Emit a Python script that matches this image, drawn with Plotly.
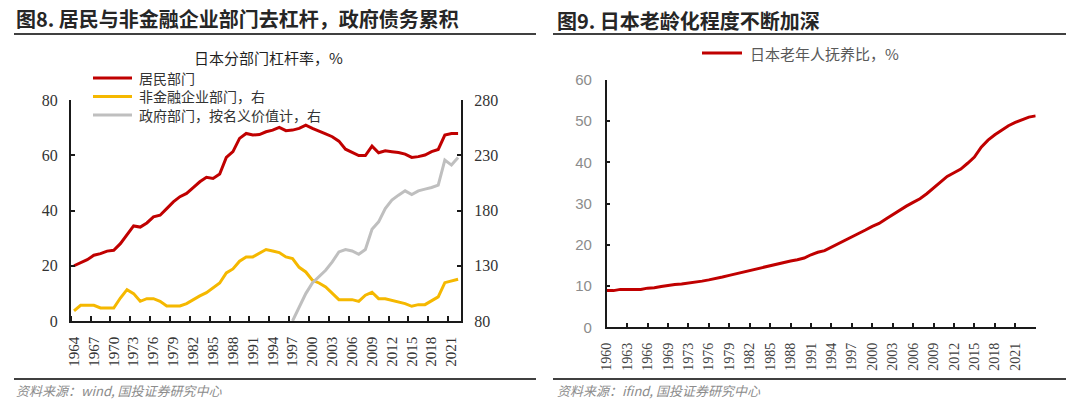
import plotly.graph_objects as go

# ---------------- data: left chart ----------------
years_left = list(range(1964, 2023))
household = [20.0, 21.0, 22.2, 23.8, 24.4, 25.3, 25.6, 28.0, 31.4, 34.4,
             34.0, 35.5, 37.7, 38.3, 40.7, 43.1, 45.0, 46.2, 48.3, 50.4,
             52.0, 51.6, 53.2, 59.2, 61.3, 66.1, 67.9, 67.3, 67.5, 68.5,
             69.1, 70.1, 68.9, 69.1, 69.7, 70.9, 69.7, 68.8, 67.7, 66.7,
             65.1, 62.2, 61.0, 59.9, 59.9, 63.3, 60.9, 61.6, 61.3, 61.0,
             60.4, 59.2, 59.5, 60.1, 61.3, 62.1, 67.3, 67.9, 67.9]
nonfin_corp = [89.1, 94.2, 94.2, 94.2, 91.8, 91.8, 91.8, 100.8, 108.4, 104.8,
               97.8, 100.2, 100.2, 97.8, 93.6, 93.6, 93.6, 95.7, 99.6, 102.7,
               105.7, 110.2, 114.4, 123.5, 127.1, 134.1, 138.0, 138.0, 141.0, 144.7,
               143.4, 141.9, 138.0, 136.5, 128.6, 124.4, 116.9, 114.4, 110.8, 104.8,
               99.3, 99.3, 99.3, 97.8, 103.3, 106.0, 100.2, 100.2, 98.7, 97.2,
               95.7, 93.3, 94.8, 94.8, 98.1, 101.8, 114.7, 116.0, 117.8]
years_gov = list(range(1997, 2023))
government = [80.0, 92.7, 104.8, 114.4, 119.9, 125.9, 133.5, 142.5, 144.7, 143.4,
              140.4, 144.7, 163.1, 169.7, 181.8, 189.4, 193.9, 197.8, 194.5, 197.8,
              199.3, 200.8, 203.0, 225.6, 221.1, 228.0]
left_tick_years = list(range(1964, 2022, 3))
left_boundaries = [y - 0.5 for y in range(1964, 2022, 3)]
left_y_ticks = [0, 20, 40, 60, 80]
right_y2_ticks = [80, 130, 180, 230, 280]
left_names = ["居民部门", "非金融企业部门，右", "政府部门，按名义价值计，右"]

# ---------------- data: right chart ----------------
years_right = [1960, 1961, 1962, 1963, 1964, 1965, 1966, 1967, 1968, 1969] + list(range(1971, 2025))
old_age_dep = [8.9, 8.9, 9.2, 9.2, 9.2, 9.2, 9.5, 9.6, 9.9, 10.2,
               10.4, 10.5, 10.7, 11.0, 11.2, 11.5, 11.8, 12.2, 12.6, 13.0,
               13.4, 13.8, 14.1, 14.5, 14.9, 15.3, 15.7, 16.1, 16.4, 16.8,
               17.6, 18.2, 18.6, 19.4, 20.3, 21.0, 21.8, 22.6, 23.6, 24.5,
               25.2, 26.3, 27.4, 28.4, 29.4, 30.3, 31.2, 32.4, 33.8, 35.2,
               36.6, 37.5, 38.4, 39.8, 41.3, 43.7, 45.4, 46.7, 47.9, 48.9,
               49.7, 50.4, 51.0, 51.3]
right_tickvals = [str(y) for y in years_right[::3]]
right_ticktext = [t if int(t) <= 2021 else "" for t in right_tickvals]
right_y_ticks = [0, 10, 20, 30, 40, 50, 60]
right_name = "日本老年人抚养比，%"

RED = "#C00000"
YELLOW = "#F5B800"
GRAY = "#BFBFBF"
W, H = 1066, 406
CJK = "Noto Sans CJK SC"
SERIF = "Liberation Serif"


def px(x):
    return x / W


def py(y):
    return 1 - y / H


fig = go.Figure()

fig.add_trace(go.Scatter(x=years_left, y=household, mode="lines", name=left_names[0],
                         line=dict(color=RED, width=3), xaxis="x", yaxis="y"))
fig.add_trace(go.Scatter(x=years_left, y=nonfin_corp, mode="lines", name=left_names[1],
                         line=dict(color=YELLOW, width=3), xaxis="x", yaxis="y2"))
fig.add_trace(go.Scatter(x=years_gov, y=government, mode="lines", name=left_names[2],
                         line=dict(color=GRAY, width=3), xaxis="x", yaxis="y2"))
fig.add_trace(go.Scatter(x=[str(y) for y in years_right], y=old_age_dep, mode="lines",
                         name=right_name, line=dict(color=RED, width=3),
                         xaxis="x3", yaxis="y3"))

axis_line = dict(showline=True, linecolor="#1a1a1a", linewidth=1.5, showgrid=False,
                 zeroline=False, mirror=False, automargin=False)

fig.update_layout(
    template="none",
    width=W, height=H,
    margin=dict(l=0, r=0, t=0, b=0, pad=0, autoexpand=False),
    paper_bgcolor="white", plot_bgcolor="white",
    showlegend=False,
    xaxis=dict(**axis_line, domain=[px(70.7), px(461.4)], range=[1963.5, 2022.5],
               tickmode="array", tickvals=left_tick_years, ticktext=[str(y) for y in left_tick_years],
               ticks="", tickangle=-90, ticklabelstandoff=8,
               tickfont=dict(family=SERIF, size=15, color="#333333"),
               minor=dict(tickmode="array", tickvals=left_boundaries, ticks="inside",
                          ticklen=5, tickwidth=1.5, tickcolor="#1a1a1a", showgrid=False),
               anchor="y"),
    yaxis=dict(**axis_line, domain=[py(321), py(100)], range=[0, 80],
               tickmode="array", tickvals=left_y_ticks,
               ticks="inside", ticklen=5, tickwidth=1.5, tickcolor="#1a1a1a",
               tickfont=dict(family=SERIF, size=16, color="#333333"), anchor="x",
               ticklabelstandoff=8),
    yaxis2=dict(**axis_line, domain=[py(321), py(100)], range=[80, 280],
                tickmode="array", tickvals=right_y2_ticks,
                overlaying="y", side="right", anchor="x",
                ticks="inside", ticklen=5, tickwidth=1.5, tickcolor="#1a1a1a",
                tickfont=dict(family=SERIF, size=16, color="#333333"),
                ticklabelstandoff=8),
    xaxis3=dict(**axis_line, domain=[px(606.7), px(1035.7)], type="category",
                range=[0, len(years_right) - 1],
                tickmode="array", tickvals=right_tickvals, ticktext=right_ticktext,
                ticks="inside", ticklen=5, tickwidth=1.5, tickcolor="#1a1a1a",
                tickangle=-90, ticklabelstandoff=8,
                tickfont=dict(family=SERIF, size=14, color="#404040"), anchor="y3"),
    yaxis3=dict(**axis_line, domain=[py(327.3), py(80)], range=[0, 60],
                tickmode="array", tickvals=right_y_ticks,
                ticks="inside", ticklen=4, tickwidth=1.5, tickcolor="#1a1a1a",
                tickfont=dict(family="Liberation Sans", size=15, color="#8c8c8c"),
                anchor="x3", ticklabelstandoff=10),
)

annotations = [
    dict(text="<b>图8. 居民与非金融企业部门去杠杆，政府债务累积</b>", x=px(14), y=py(18),
         xanchor="left", yanchor="middle", font=dict(family=CJK, size=20, color="#262626")),
    dict(text="<b>图9. 日本老龄化程度不断加深</b>", x=px(555), y=py(20),
         xanchor="left", yanchor="middle", font=dict(family=CJK, size=20, color="#262626")),
    dict(text="日本分部门杠杆率，%", x=px(268), y=py(58), xanchor="center", yanchor="middle",
         font=dict(family=CJK, size=15, color="#1f1f1f")),
    dict(text="<i>资料来源：wind, 国投证券研究中心</i>", x=px(14), y=py(390),
         xanchor="left", yanchor="middle", font=dict(family=CJK, size=13, color="#8c8c8c")),
    dict(text="<i>资料来源：ifind, 国投证券研究中心</i>", x=px(555), y=py(390),
         xanchor="left", yanchor="middle", font=dict(family=CJK, size=13, color="#8c8c8c")),
]
# manual legend (left chart)
legend_rows = [78, 96.5, 115]
legend_colors = [RED, YELLOW, GRAY]
shapes = []
for name, row, col in zip(left_names, legend_rows, legend_colors):
    shapes.append(dict(type="line", x0=px(93), x1=px(132), y0=py(row), y1=py(row),
                       line=dict(color=col, width=3)))
    annotations.append(dict(text=name, x=px(137), y=py(row), xanchor="left", yanchor="middle",
                            font=dict(family=CJK, size=14, color="#333333")))
# manual legend (right chart)
shapes.append(dict(type="line", x0=px(702), x1=px(742), y0=py(53), y1=py(53),
                   line=dict(color=RED, width=3)))
annotations.append(dict(text=right_name, x=px(748), y=py(53), xanchor="left", yanchor="middle",
                        font=dict(family=CJK, size=15, color="#595959")))

for a in annotations:
    a.update(xref="paper", yref="paper", showarrow=False)
fig.update_layout(annotations=annotations)

shapes += [
    dict(type="line", x0=px(14), x1=px(536), y0=py(34), y1=py(34), line=dict(color="#404040", width=2)),
    dict(type="line", x0=px(553), x1=1, y0=py(34), y1=py(34), line=dict(color="#404040", width=2)),
    dict(type="line", x0=px(14), x1=px(536), y0=py(379), y1=py(379), line=dict(color="#404040", width=2)),
    dict(type="line", x0=px(553), x1=1, y0=py(379), y1=py(379), line=dict(color="#404040", width=2)),
]
for s in shapes:
    s.update(xref="paper", yref="paper")
fig.update_layout(shapes=shapes)

fig.write_html("out.html", config={"displayModeBar": False},
               post_script="document.body.style.margin='0';document.body.style.padding='0';"
                           "document.body.style.overflow='hidden';")
